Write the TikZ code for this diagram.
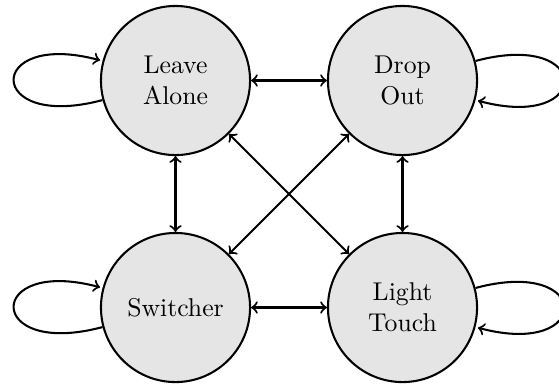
\documentclass[tikz,border=0pt]{standalone}
\begin{document}
\begin{tikzpicture}[x=0.389pt,y=-0.389pt,
  state/.style={circle,draw,thick,fill=gray!20,minimum size=58pt,inner sep=0pt,align=center},
  edge/.style={thick,<->},
  selfloop/.style={thick,->}]
\useasboundingbox (0,0) rectangle (559,386);
\node[state] (la) at (175.5,80.5) {Leave\\Alone};
\node[state] (do) at (402.5,80.5) {Drop\\Out};
\node[state] (sw) at (175.5,307.5) {Switcher};
\node[state] (lt) at (402.5,307.5) {Light\\Touch};
\draw[edge] (la) -- (do);
\draw[edge] (la) -- (sw);
\draw[edge] (do) -- (lt);
\draw[edge] (sw) -- (lt);
\draw[edge] (la) -- (lt);
\draw[edge] (do) -- (sw);
\draw[selfloop] (la) edge[loop left] (la);
\draw[selfloop] (sw) edge[loop left] (sw);
\draw[selfloop] (do) edge[loop right] (do);
\draw[selfloop] (lt) edge[loop right] (lt);
\end{tikzpicture}
\end{document}
